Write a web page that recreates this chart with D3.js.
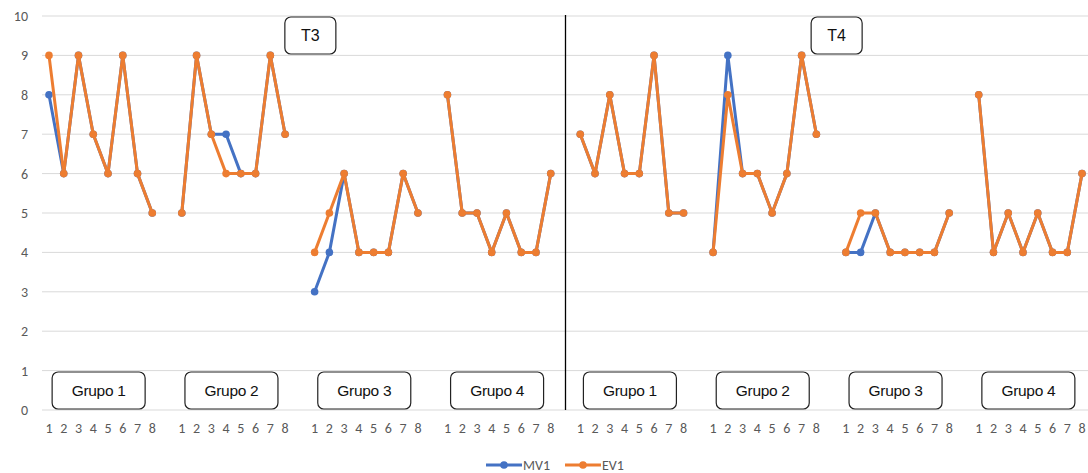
<!DOCTYPE html>
<html><head><meta charset="utf-8">
<script src="https://cdn.jsdelivr.net/npm/d3@7"></script>
<style>
html,body{margin:0;padding:0;background:#fff;}
svg{display:block;font-family:Carlito,Calibri,Lato,"Liberation Sans",Arial,sans-serif;}
</style></head>
<body><svg id="c" width="1088" height="473"></svg>
<script>
const periods = ["T3", "T4"];
const groups = ["Grupo 1", "Grupo 2", "Grupo 3", "Grupo 4"];
const pointLabels = ["1", "2", "3", "4", "5", "6", "7", "8"];
const seriesNames = ["MV1", "EV1"];
const yTicks = [0, 1, 2, 3, 4, 5, 6, 7, 8, 9, 10];
// values in order: T3 G1..G4, then T4 G1..G4, 8 points each
const mv1 = [
  8, 6, 9, 7, 6, 9, 6, 5,
  5, 9, 7, 7, 6, 6, 9, 7,
  3, 4, 6, 4, 4, 4, 6, 5,
  8, 5, 5, 4, 5, 4, 4, 6,
  7, 6, 8, 6, 6, 9, 5, 5,
  4, 9, 6, 6, 5, 6, 9, 7,
  4, 4, 5, 4, 4, 4, 4, 5,
  8, 4, 5, 4, 5, 4, 4, 6
];
const ev1 = [
  9, 6, 9, 7, 6, 9, 6, 5,
  5, 9, 7, 6, 6, 6, 9, 7,
  4, 5, 6, 4, 4, 4, 6, 5,
  8, 5, 5, 4, 5, 4, 4, 6,
  7, 6, 8, 6, 6, 9, 5, 5,
  4, 8, 6, 6, 5, 6, 9, 7,
  4, 5, 5, 4, 4, 4, 4, 5,
  8, 4, 5, 4, 5, 4, 4, 6
];
const colors = ["#4472C4", "#ED7D31"];

(function () {
const tickFont = "Carlito,Calibri,Lato,'Liberation Sans',sans-serif";
const boxFont = "'Liberation Sans',Arial,sans-serif";
// build category list with blank separators
const cats = [];
periods.forEach((p, pi) => {
  groups.forEach((g, gi) => {
    pointLabels.forEach((l, li) => cats.push({id: p + "|" + g + "|" + l, label: l, p: pi, g: gi, idx: (pi * 4 + gi) * 8 + li}));
    if (!(pi === 1 && gi === 3)) cats.push({id: p + "|" + g + "|gap", label: "", p: pi, g: gi, idx: -1});
  });
});

const svg = d3.select("#c");
const pLeft = 41.6, pRight = 1089.4, pTop = 16, pBottom = 410;
const x = d3.scaleBand().domain(cats.map(c => c.id)).range([pLeft, pRight]);
const cx = id => x(id) + x.bandwidth() / 2;
const y = d3.scaleLinear().domain([0, 10]).range([pBottom, pTop]);

// gridlines
svg.append("g").selectAll("line").data(yTicks).join("line")
  .attr("x1", 42).attr("x2", 1088)
  .attr("y1", d => y(d)).attr("y2", d => y(d))
  .attr("stroke", "#d9d9d9").attr("stroke-width", 1);

// y axis labels
const yAxis = d3.axisLeft(y).tickValues(yTicks).tickSize(0).tickPadding(0);
const ya = svg.append("g").attr("transform", "translate(28,0)").call(yAxis);
ya.select(".domain").remove();
ya.selectAll("text").attr("fill", "#595959").attr("font-size", 14).attr("font-family", tickFont);

// x axis labels
const xAxis = d3.axisBottom(x).tickSize(0).tickPadding(0).tickFormat(id => cats.find(c => c.id === id).label);
const xa = svg.append("g").attr("transform", `translate(0,${pBottom + 13})`).call(xAxis);
xa.select(".domain").remove();
xa.selectAll("text").attr("fill", "#595959").attr("font-size", 14).attr("font-family", tickFont);

// separator line between T3 and T4
const sepId = periods[0] + "|" + groups[3] + "|gap";
svg.append("line").attr("x1", cx(sepId)).attr("x2", cx(sepId)).attr("y1", pTop - 1).attr("y2", pBottom)
  .attr("stroke", "#000").attr("stroke-width", 1.3);

// series
const pts = cats.filter(c => c.idx >= 0);
[mv1, ev1].forEach((vals, si) => {
  const gS = svg.append("g");
  periods.forEach((p, pi) => groups.forEach((g, gi) => {
    const seg = pts.filter(c => c.p === pi && c.g === gi);
    const line = d3.line().x(c => cx(c.id)).y(c => y(vals[c.idx]));
    gS.append("path").attr("d", line(seg)).attr("fill", "none")
      .attr("stroke", colors[si]).attr("stroke-width", 3).attr("stroke-linejoin", "round").attr("stroke-linecap", "round");
  }));
  gS.selectAll("circle").data(pts).join("circle")
    .attr("cx", c => cx(c.id)).attr("cy", c => y(vals[c.idx])).attr("r", 3.8).attr("fill", colors[si]);
});

// group boxes
periods.forEach((p, pi) => groups.forEach((g, gi) => {
  const seg = pts.filter(c => c.p === pi && c.g === gi);
  const mid = (cx(seg[0].id) + cx(seg[7].id)) / 2 - 2;
  const w = 93, h = 37;
  const gb = svg.append("g");
  gb.append("rect").attr("x", mid - w / 2).attr("y", 372).attr("width", w).attr("height", h)
    .attr("rx", 6).attr("fill", "#fff").attr("stroke", "#222").attr("stroke-width", 1.2);
  gb.append("text").attr("x", mid).attr("y", 390.5).attr("text-anchor", "middle").attr("dominant-baseline", "central")
    .attr("font-size", 15.5).attr("font-family", boxFont).attr("letter-spacing", -0.3).attr("fill", "#111").text(g);
}));

// period boxes
const periodOffsets = [10.5, 5.5];
periods.forEach((p, pi) => {
  const gapId = p + "|" + groups[1] + "|gap";
  const mid = cx(gapId) + periodOffsets[pi];
  const w = 51, h = 37;
  svg.append("rect").attr("x", mid - w / 2).attr("y", 17).attr("width", w).attr("height", h)
    .attr("rx", 6).attr("fill", "#fff").attr("stroke", "#222").attr("stroke-width", 1.2);
  svg.append("text").attr("x", mid).attr("y", 35).attr("text-anchor", "middle").attr("dominant-baseline", "central")
    .attr("font-size", 16).attr("font-family", boxFont).attr("fill", "#111").text(p);
});

// legend
const legX = [486, 565];
seriesNames.forEach((n, i) => {
  const lg = svg.append("g").attr("transform", `translate(${legX[i]},465)`);
  lg.append("line").attr("x1", 0).attr("x2", 36).attr("stroke", colors[i]).attr("stroke-width", 3);
  lg.append("circle").attr("cx", 18).attr("r", 3.8).attr("fill", colors[i]);
  lg.append("text").attr("x", 37).attr("dominant-baseline", "central").attr("font-size", 14).attr("font-family", tickFont)
    .attr("fill", "#595959").text(n);
});
})();
</script></body></html>
